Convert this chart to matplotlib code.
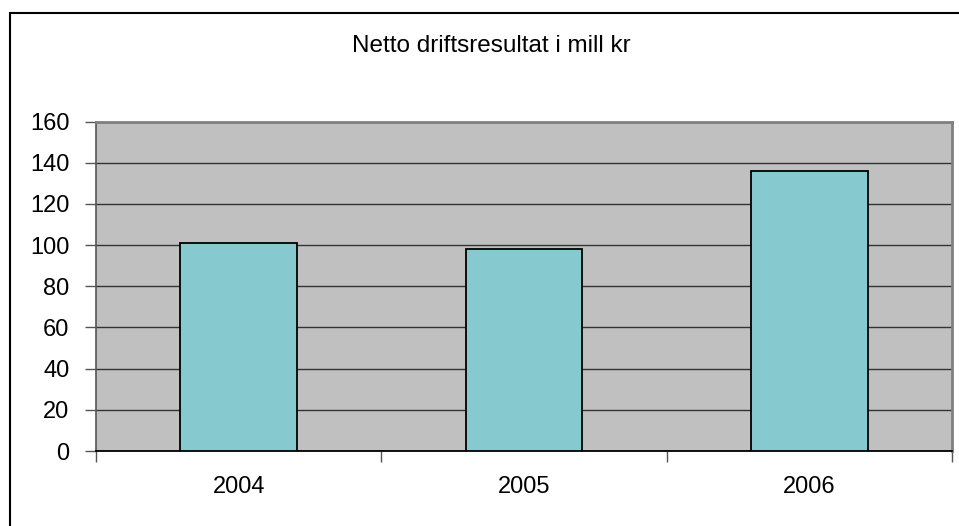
import matplotlib
matplotlib.use("Agg")
import matplotlib.pyplot as plt
from matplotlib.patches import Rectangle
import numpy as np

plt.rcParams['font.family'] = ['Liberation Sans', 'DejaVu Sans']

categories = ["2004", "2005", "2006"]
values = [101, 98, 136]
y_ticks = [0, 20, 40, 60, 80, 100, 120, 140, 160]
title = "Netto driftsresultat i mill kr"

W, H = 959, 526
fig = plt.figure(figsize=(W / 100, H / 100), dpi=100)
fig.patch.set_facecolor("white")

# outer chart border
fig.patches.append(Rectangle((10 / W, -0.05), 1.1, (H - 13) / H + 0.05,
                             transform=fig.transFigure, fill=False,
                             edgecolor="black", linewidth=1.5))

ax = fig.add_axes([96 / W, (H - 451) / H, (952 - 96) / W, (451 - 121.5) / H])
ax.set_facecolor("#C0C0C0")

x = np.arange(len(categories))
ax.bar(x, values, width=0.41, color="#86C9CF", edgecolor="black", linewidth=1.3, zorder=3)

fs = 17
ax.set_xlim(-0.5, len(categories) - 0.5)
ax.set_ylim(0, 160)
ax.set_yticks(y_ticks)
ax.set_yticklabels([str(v) for v in y_ticks], fontsize=fs)
ax.yaxis.grid(True, color="#333333", linewidth=1.0, zorder=1)
ax.set_axisbelow(True)

ax.set_xticks(x)
ax.set_xticklabels(categories, fontsize=fs)
ax.tick_params(axis="x", which="major", length=0, pad=18)
ax.set_xticks(np.arange(-0.5, len(categories)), minor=True)
ax.tick_params(axis="x", which="minor", length=8, width=1, color="#555555", direction="out")
ax.tick_params(axis="y", length=8, width=1, color="#555555", direction="out", pad=11)

for s in ["top", "right"]:
    ax.spines[s].set_color("#808080")
    ax.spines[s].set_linewidth(2)
ax.spines["left"].set_color("#555555")
ax.spines["left"].set_linewidth(1.2)
ax.spines["bottom"].set_color("black")
ax.spines["bottom"].set_linewidth(1.3)

fig.text(491.5 / W, 1 - 52 / H, title, ha="center", va="baseline", fontsize=17.5)

fig.savefig("out.png", dpi=100)
